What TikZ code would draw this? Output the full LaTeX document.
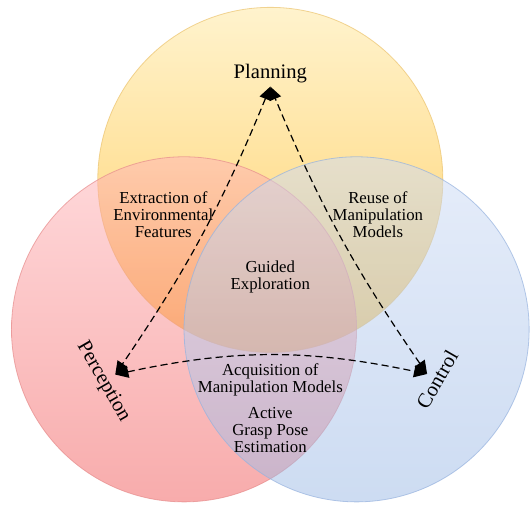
\documentclass[tikz,border=0pt]{standalone}
\usepackage{fontspec}
\setmainfont{Liberation Serif}
\usepackage{tikz}
\usetikzlibrary{arrows.meta}
\definecolor{planTop}{RGB}{255,235,172}
\definecolor{planBot}{RGB}{255,175,0}
\definecolor{planLine}{RGB}{235,195,110}
\definecolor{percTop}{RGB}{255,179,183}
\definecolor{percBot}{RGB}{241,89,89}
\definecolor{percLine}{RGB}{230,140,140}
\definecolor{ctrlTop}{RGB}{205,219,245}
\definecolor{ctrlBot}{RGB}{155,185,229}
\definecolor{ctrlLine}{RGB}{150,178,222}

\begin{document}
\begin{tikzpicture}[
  field/.style={fill opacity=0.5,draw opacity=0.7,line width=0.4pt},
  area/.style={font=\fontsize{8.3}{8.4}\selectfont,align=center,inner sep=0pt},
  topic/.style={font=\fontsize{10.2}{12}\selectfont,inner sep=2pt,text height=7pt,text depth=2pt},
  link/.style={semithick,dash pattern=on 3.5pt off 2pt,{Triangle[length=6.5pt,width=6pt]}-{Triangle[length=6.5pt,width=6pt]}}]
\useasboundingbox (-4.70,-3.94) rectangle (4.55,4.86);
\shade[field,fill opacity=0.6,draw=planLine,top color=planTop,bottom color=planBot] (0,1.732) circle (3);
\shade[field,draw=percLine,top color=percTop,bottom color=percBot] (-1.5,-0.866) circle (3);
\shade[field,draw=ctrlLine,top color=ctrlTop,bottom color=ctrlBot] (1.5,-0.866) circle (3);
\node[topic] (plan) at (0,3.59) {Planning};
\node[topic,rotate=-60] (perc) at (-2.90,-1.77) {Perception};
\node[topic,rotate=60] (ctrl) at (2.93,-1.76) {Control};
\node[area] (feat) at (-1.86,1.12) {Extraction of\\Environmental\\Features};
\node[area] (reuse) at (1.87,1.12) {Reuse of\\Manipulation\\Models};
\node[area] (guide) at (0,0.05) {Guided\\Exploration};
\node[area] (acq) at (0,-1.74) {Acquisition of\\Manipulation Models};
\node[area] (grasp) at (0,-2.62) {Active\\Grasp Pose\\Estimation};
\draw[link] (perc.north) to[bend left=12] (ctrl.north);
\draw[link] (ctrl.north) to[bend left=6] (plan.south);
\draw[link] (plan.south) to[bend left=6] (perc.north);
\end{tikzpicture}
\end{document}
